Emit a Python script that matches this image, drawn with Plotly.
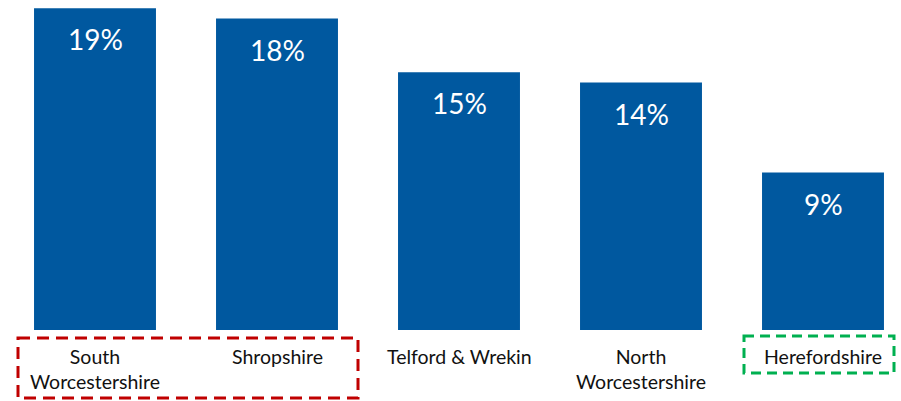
import plotly.graph_objects as go

categories = ["South<br>Worcestershire", "Shropshire", "Telford & Wrekin", "North<br>Worcestershire", "Herefordshire"]
values = [18.6, 18.0, 14.9, 14.3, 9.1]
value_labels = [f"{v:.0f}%" for v in values]

BAR = "#00589F"
FONT = "Lato, 'Open Sans', sans-serif"

fig = go.Figure(go.Bar(
    x=list(range(len(categories))), y=values,
    marker=dict(color=BAR, line=dict(width=0)),
    hoverinfo="skip",
))

for i, (v, t) in enumerate(zip(values, value_labels)):
    fig.add_annotation(x=i, y=v, xref="x", yref="y", text=t, showarrow=False,
                       yanchor="top", yshift=-12,
                       font=dict(family=FONT, size=28, color="white"))
    fig.add_annotation(x=i, y=0, xref="x", yref="paper", text=categories[i], showarrow=False,
                       yanchor="top", yshift=-13, align="center",
                       font=dict(family=FONT, size=19.5, color="#111111"))

# dashed highlight boxes
fig.add_shape(type="rect", xref="paper", yref="paper",
              x0=18/901, x1=358/901, y0=-8/330, y1=-68/330,
              line=dict(color="#C00000", width=3, dash="12px,7px"))
fig.add_shape(type="rect", xref="paper", yref="paper",
              x0=744/901, x1=894/901, y0=-6/330, y1=-43/330,
              line=dict(color="#00B050", width=3, dash="10px,6px"))

fig.update_layout(
    width=901, height=401,
    margin=dict(l=0, r=0, t=0, b=71),
    paper_bgcolor="white", plot_bgcolor="white",
    bargap=0.33, showlegend=False,
    xaxis=dict(range=[-95/182, (901-95)/182], showticklabels=False, showgrid=False,
               zeroline=False, showline=False, ticks=""),
    yaxis=dict(range=[0, 330/17.3], visible=False, showgrid=False, zeroline=False),
)

fig.write_html("out.html", config={"displayModeBar": False},
               post_script="document.body.style.margin='0';")
